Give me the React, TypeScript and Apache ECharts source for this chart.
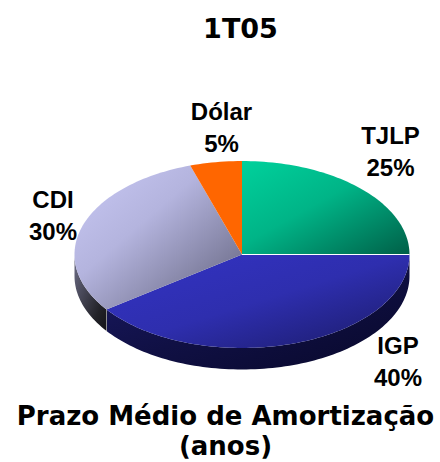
import React, { useEffect, useRef } from "react";
import * as echarts from "echarts";

const categories = ["TJLP", "IGP", "CDI", "Dólar"];
const shares = [25, 40, 30, 5];
const topTitle = "1T05";
const bottomTitle = "Prazo Médio de Amortização\n(anos)";

const CX = 242, CY = 254.5, RX = 167.5, RY = 93.5, DEPTH = 21.5;
const LABEL_POS: [number, number][] = [[390.5, 151.5], [398, 361.5], [53, 215], [221.5, 127]];
const TOP_FILL: any[] = [
  [[0, "#00D19C"], [0.45, "#00B487"], [1, "#005F47"]],
  [[0, "#3333C4"], [0.5, "#2E2EAE"], [1, "#1A1A66"]],
  [[0, "#C9C9F5"], [0.4, "#B4B4DE"], [1, "#5F5F78"]],
  [[0, "#FF6600"], [1, "#FF6600"]],
];
const SIDE_FILL: any[] = [
  null,
  [[0, "#1A1A66"], [0.5, "#101044"], [1, "#08082A"]],
  [[0, "#6E6E88"], [0.75, "#222228"], [1, "#141418"]],
  null,
];

const pt = (deg: number, dy = 0): number[] => {
  const r = (deg * Math.PI) / 180;
  return [CX + RX * Math.sin(r), CY - RY * Math.cos(r) + dy];
};
const arc = (a: number, b: number, dy = 0): number[][] => {
  const n = Math.max(2, Math.ceil(Math.abs(b - a) / 1.5));
  const out: number[][] = [];
  for (let i = 0; i <= n; i++) out.push(pt(a + ((b - a) * i) / n, dy));
  return out;
};
const grad = (stops: any[]) =>
  new echarts.graphic.LinearGradient(0, 0, 1, 1, stops.map(([offset, color]) => ({ offset, color })));

const total = shares.reduce((s, v) => s + v, 0);

const renderItem = (params: any, api: any) => {
  const i = params.dataIndex;
  let before = 0;
  for (let k = 0; k < i; k++) before += shares[k];
  const a = (before / total) * 360;
  const b = a + (api.value(0) / total) * 360;
  const children: any[] = [];
  const sa = Math.max(a, 90), sb = Math.min(b, 270);
  if (sb > sa && SIDE_FILL[i]) {
    children.push({
      type: "polygon",
      shape: { points: [...arc(sa, sb), ...arc(sb, sa, DEPTH)] },
      style: { fill: grad(SIDE_FILL[i]) },
    });
  }
  children.push({
    type: "polygon",
    shape: { points: [[CX, CY], ...arc(a, b)] },
    style: { fill: grad(TOP_FILL[i]) },
  });
  if (i === 1) {
    children.push({
      type: "line",
      shape: { x1: CX, y1: CY, x2: CX + RX, y2: CY },
      style: { stroke: "#FFFFFF", lineWidth: 1 },
    });
    const e = pt(b);
    children.push({
      type: "line",
      shape: { x1: e[0], y1: e[1], x2: e[0], y2: e[1] + DEPTH },
      style: { stroke: "#FFFFFF", lineWidth: 1 },
    });
  }
  return { type: "group", children };
};

export default function App() {
  const ref = useRef<HTMLDivElement>(null);
  useEffect(() => {
    const chart = echarts.init(ref.current!, undefined, { renderer: "svg" });
    const heading = { fontFamily: "DejaVu Sans", fontWeight: "bold", fill: "#000", align: "center", verticalAlign: "middle" };
    chart.setOption({
      animation: false,
      backgroundColor: "#FFFFFF",
      series: [
        {
          type: "custom",
          coordinateSystem: "none",
          silent: true,
          renderItem,
          data: shares.map((v, i) => ({ name: categories[i], value: [v] })),
        },
      ],
      graphic: [
        { type: "text", x: 240.5, y: 28, style: { ...heading, text: topTitle, fontSize: 27 } },
        { type: "text", x: 225.5, y: 431, style: { ...heading, text: bottomTitle, fontSize: 26, lineHeight: 30 } },
        ...categories.map((c, i) => ({
          type: "text",
          x: LABEL_POS[i][0],
          y: LABEL_POS[i][1],
          style: {
            text: `${c}\n${shares[i]}%`,
            fontFamily: "Liberation Sans",
            fontWeight: "bold",
            fontSize: 24,
            lineHeight: 32,
            fill: "#000",
            align: "center",
            verticalAlign: "middle",
          },
        })),
      ],
    });
    return () => chart.dispose();
  }, []);
  return <div ref={ref} style={{ position: "absolute", left: 0, top: 0, width: 440, height: 462 }} />;
}
